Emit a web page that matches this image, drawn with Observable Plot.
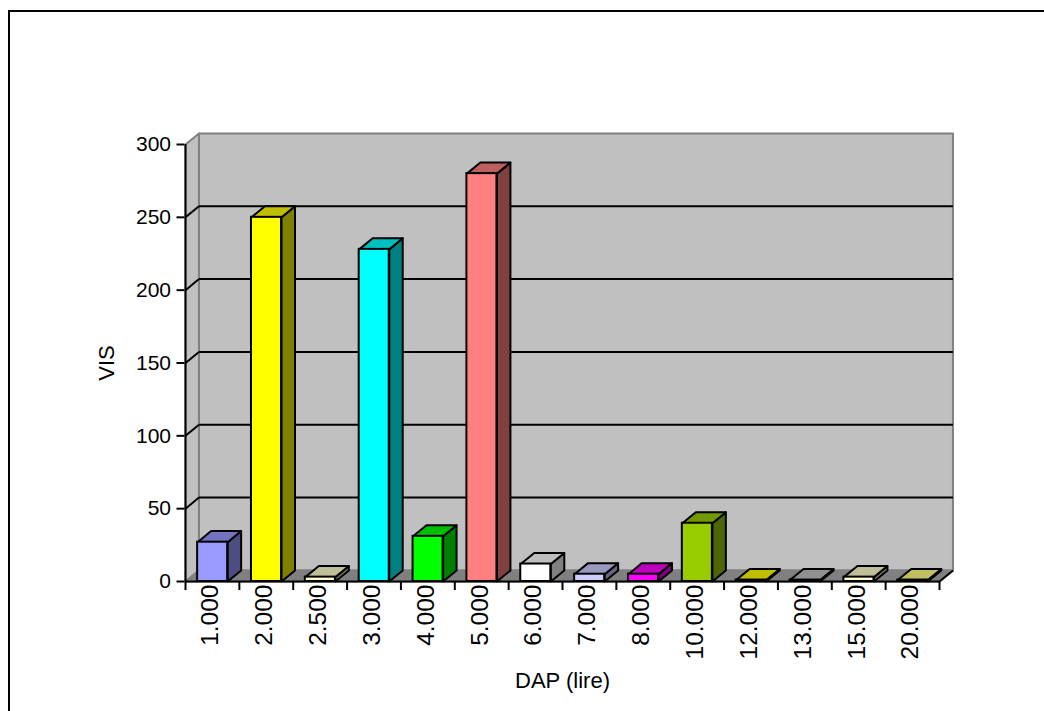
<!DOCTYPE html>
<html>
<head>
<meta charset="utf-8">
<style>
  html, body { margin: 0; padding: 0; background: #fff; overflow: hidden; }
  #chart { position: absolute; left: 0; top: 0; }
  #frame { position: absolute; left: 8px; top: 10px; width: 1036px; height: 701px;
           box-sizing: border-box; border-left: 2px solid #000; border-top: 2px solid #000; }
</style>
<script src="https://cdn.jsdelivr.net/npm/d3@7"></script>
<script src="https://cdn.jsdelivr.net/npm/@observablehq/plot@0.6"></script>
</head>
<body>
<div id="chart"></div>
<div id="frame"></div>
<script>
// Number of cases per DAP class
const dapLabels = ["1.000", "2.000", "2.500", "3.000", "4.000", "5.000", "6.000",
                   "7.000", "8.000", "10.000", "12.000", "13.000", "15.000", "20.000"];
const visCounts = [27, 250, 3, 228, 31, 280, 12, 5, 5, 40, 1, 1, 3, 1];
const barColors = ["#9999FF", "#FFFF00", "#FFFFCC", "#00FFFF", "#00FF00", "#FF8080", "#FFFFFF",
                   "#CCCCFF", "#FF00FF", "#99CC00", "#FFFF00", "#C0C0C0", "#FFFFCC", "#FFFF80"];
const yTicks = [0, 50, 100, 150, 200, 250, 300];

// Oblique depth of the box, in scale units
const depthX = 0.25;
const depthY = 7.6;
const insetLeft = 0.225;
const insetRight = 0.217;

const shade = (color, k) => {
  const c = d3.rgb(color);
  return d3.rgb(c.r * k, c.g * k, c.b * k).formatHex();
};

// Each bar is a front rectangle plus a top and a side parallelogram
const fronts = visCounts.map((v, i) => ({
  x1: i + insetLeft, x2: i + 1 - insetRight, y1: 0, y2: v, fill: barColors[i]
}));
const faces = visCounts.flatMap((v, i) => {
  const l = i + insetLeft, r = i + 1 - insetRight;
  const top = [[l, v], [r, v], [r + depthX, v + depthY], [l + depthX, v + depthY]];
  const side = [[r, 0], [r + depthX, depthY], [r + depthX, v + depthY], [r, v]];
  return [
    ...side.map(([x, y]) => ({x, y, face: `s${i}`, fill: shade(barColors[i], 0.5)})),
    ...top.map(([x, y]) => ({x, y, face: `t${i}`, fill: shade(barColors[i], 0.75)}))
  ];
});

const n = dapLabels.length;
const yMax = 300;
const polygon = (name, fill, pts) => pts.map(([x, y]) => ({x, y, face: name, fill}));
const shell = [
  ...polygon("wall", "#C0C0C0", [[depthX, depthY], [n + depthX, depthY], [n + depthX, yMax + depthY], [depthX, yMax + depthY]]),
  ...polygon("left", "#C0C0C0", [[0, 0], [depthX, depthY], [depthX, yMax + depthY], [0, yMax]]),
  ...polygon("floor", "#808080", [[0, 0], [n, 0], [n + depthX, depthY], [depthX, depthY]])
];
const boundaries = d3.range(0, n + 1);
const centers = d3.range(0, n).map(i => i + 0.5);
const gridValues = yTicks.filter(v => v > 0 && v < yMax);
const textStyle = {fontFamily: "'Liberation Sans', Arial, sans-serif", fill: "#000"};

const chart = Plot.plot({
  width: 1044,
  height: 711,
  marginLeft: 185,
  marginRight: 105,
  marginTop: 144,
  marginBottom: 130,
  style: {background: "transparent", ...textStyle},
  x: {type: "linear", domain: [0, n]},
  y: {type: "linear", domain: [0, yMax]},
  color: {type: "identity"},
  marks: [
    Plot.line(shell, {x: "x", y: "y", z: "face", fill: "fill", stroke: "#808080", strokeWidth: 2, curve: "linear-closed"}),
    // Gridlines run along the back wall and step down the left wall
    Plot.link(gridValues, {x1: depthX, x2: n + depthX, y1: v => v + depthY, y2: v => v + depthY, stroke: "#000", strokeWidth: 2}),
    Plot.link(gridValues, {x1: 0, x2: depthX, y1: v => v, y2: v => v + depthY, stroke: "#000", strokeWidth: 2}),
    Plot.link([0], {x1: n, x2: n + depthX, y1: 0, y2: depthY, stroke: "#000", strokeWidth: 2}),
    Plot.line(faces, {x: "x", y: "y", z: "face", fill: "fill", stroke: "#000", strokeWidth: 2, curve: "linear-closed"}),
    Plot.rect(fronts, {x1: "x1", x2: "x2", y1: "y1", y2: "y2", fill: "fill", stroke: "#000", strokeWidth: 2, inset: 0}),
    Plot.ruleX([0], {stroke: "#000", strokeWidth: 2}),
    Plot.ruleY([0], {stroke: "#000", strokeWidth: 2}),
    Plot.axisY({
      ticks: yTicks, tickSize: 8, tickPadding: 6, strokeWidth: 2, fontSize: 21, stroke: "#000", dx: -0.5,
      label: null
    }),
    Plot.axisY({
      ticks: [], tickSize: 0, fontSize: 22,
      label: "VIS", labelAnchor: "center", labelArrow: "none", labelOffset: 87
    }),
    Plot.axisX({
      ticks: boundaries, tickSize: 9, strokeWidth: 2, stroke: "#000",
      tickFormat: () => "", label: null
    }),
    Plot.axisX({
      ticks: centers, tickSize: 0, tickPadding: 3, tickRotate: -90, fontSize: 24.5, textAnchor: "end", dx: -2,
      tickFormat: v => dapLabels[Math.floor(v)],
      label: null
    }),
    Plot.axisX({
      ticks: [], tickSize: 0, fontSize: 22, dx: -2,
      label: "DAP (lire)", labelAnchor: "center", labelArrow: "none", labelOffset: 106
    })
  ]
});
document.getElementById("chart").append(chart);
</script>
</body>
</html>
